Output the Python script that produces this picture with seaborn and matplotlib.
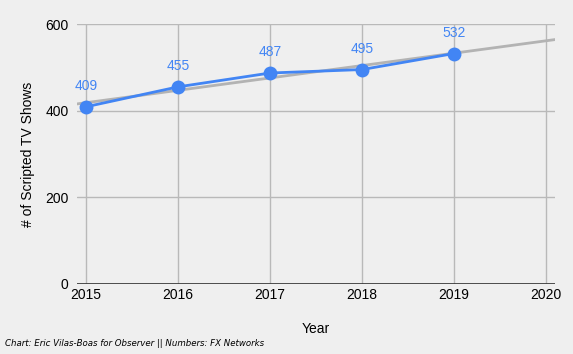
import numpy as np
import pandas as pd
import seaborn as sns
import matplotlib.pyplot as plt

years = [2015, 2016, 2017, 2018, 2019]
shows = [409, 455, 487, 495, 532]
xticks = [2015, 2016, 2017, 2018, 2019, 2020]
yticks = [0, 200, 400, 600]

df = pd.DataFrame({'Year': years, 'Shows': shows})

sns.set_theme(style='white')
plt.rcParams['font.family'] = ['Liberation Sans', 'DejaVu Sans']

bg = '#efefef'
blue = '#4285f4'
grid = '#b9b9b9'

fig = plt.figure(figsize=(5.73, 3.54), dpi=100, facecolor=bg)
ax = fig.add_axes([0.134, 0.198, 0.835, 0.734])
ax.set_facecolor(bg)

# linear trend over the whole x range
xlim = (2014.9, 2020.1)
coef = np.polyfit(years, shows, 1)
tx = np.array(xlim)
ax.plot(tx, np.polyval(coef, tx), color='#b3b3b3', lw=2, zorder=2)

sns.lineplot(data=df, x='Year', y='Shows', ax=ax, color=blue, lw=2,
             marker='o', markersize=10, markeredgewidth=0, zorder=3)

for x, y in zip(years, shows):
    ax.annotate(str(y), (x, y), xytext=(0, 10), textcoords='offset points',
                ha='center', va='bottom', color=blue, fontsize=10)

ax.set_xlim(*xlim)
ax.set_ylim(0, 600)
ax.set_xticks(xticks)
ax.set_yticks(yticks)
ax.set_xticklabels([str(t) for t in xticks], fontsize=10, color='black')
ax.set_yticklabels([str(t) for t in yticks], fontsize=10, color='black')
ax.grid(True, color=grid, lw=1)
ax.axhline(0, color='#333333', lw=1.2, zorder=2)
for s in ax.spines.values():
    s.set_visible(False)
ax.tick_params(axis='y', length=0, pad=6)
ax.tick_params(axis='x', length=0, pad=3)

ax.set_xlabel('Year', fontsize=10, labelpad=14, color='black')
ax.set_ylabel('# of Scripted TV Shows', fontsize=10, labelpad=7, color='black')

fig.text(0.008, 0.022, 'Chart: Eric Vilas-Boas for Observer || Numbers: FX Networks',
         fontsize=6.2, style='italic', color='black', family='DejaVu Sans')

fig.savefig('out.png', dpi=100, facecolor=bg)
